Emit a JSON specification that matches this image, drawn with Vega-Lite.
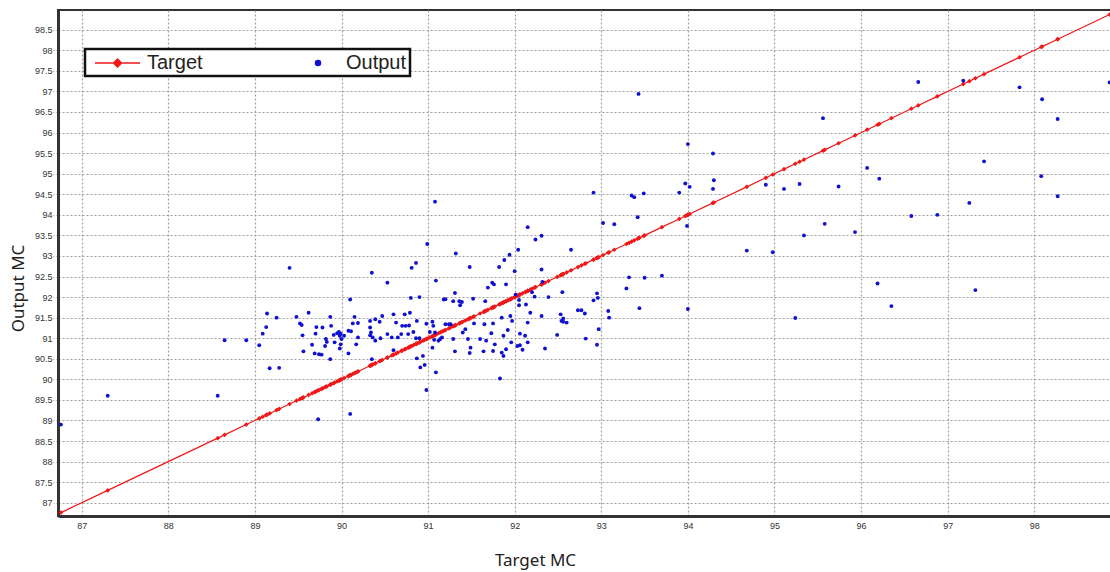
{
  "$schema": "https://vega.github.io/schema/vega-lite/v6.json",
  "width": 1053,
  "height": 506,
  "autosize": {"type": "none"},
  "padding": {"left": 58, "top": 10, "right": 0, "bottom": 56},
  "background": "white",
  "config": {
    "view": {"stroke": "#333333", "strokeWidth": 2},
    "axis": {
      "labelFont": "Liberation Sans",
      "labelFontSize": 9,
      "labelColor": "#333333",
      "labelOverlap": false,
      "titleFont": "Noto Sans",
      "titleFontSize": 17,
      "titleFontWeight": "normal",
      "titleColor": "#222222",
      "domainColor": "#333333",
      "domainWidth": 3,
      "gridColor": "#a0a0a0",
      "gridDash": [2, 2],
      "gridWidth": 1.2
    }
  },
  "data": {
    "values": [
      {"Target": 86.76, "Output": 88.9}, {"Target": 87.3, "Output": 89.6}, {"Target": 88.57, "Output": 89.6}, {"Target": 88.65, "Output": 90.95},
      {"Target": 88.9, "Output": 90.95}, {"Target": 89.05, "Output": 90.83}, {"Target": 89.09, "Output": 91.11}, {"Target": 89.13, "Output": 91.27},
      {"Target": 89.14, "Output": 91.6}, {"Target": 89.25, "Output": 91.5}, {"Target": 89.17, "Output": 90.27}, {"Target": 89.28, "Output": 90.28},
      {"Target": 89.73, "Output": 89.03}, {"Target": 90.1, "Output": 89.16},
      {"Target": 89.4, "Output": 92.71}, {"Target": 89.48, "Output": 91.52}, {"Target": 89.52, "Output": 91.36}, {"Target": 89.54, "Output": 91.32},
      {"Target": 89.62, "Output": 91.62}, {"Target": 89.55, "Output": 91.07}, {"Target": 89.56, "Output": 90.68}, {"Target": 89.66, "Output": 90.84},
      {"Target": 89.7, "Output": 91.11}, {"Target": 89.71, "Output": 91.27}, {"Target": 89.69, "Output": 90.63}, {"Target": 89.74, "Output": 90.61},
      {"Target": 89.77, "Output": 90.6}, {"Target": 89.78, "Output": 91.26}, {"Target": 89.82, "Output": 90.98}, {"Target": 89.81, "Output": 90.81},
      {"Target": 89.83, "Output": 90.91}, {"Target": 89.87, "Output": 91.52}, {"Target": 89.88, "Output": 91.3}, {"Target": 89.87, "Output": 90.49},
      {"Target": 89.91, "Output": 91.08}, {"Target": 89.92, "Output": 90.9}, {"Target": 89.95, "Output": 91.12}, {"Target": 89.97, "Output": 91.15},
      {"Target": 89.99, "Output": 91.11}, {"Target": 89.98, "Output": 91.06}, {"Target": 90.0, "Output": 90.98}, {"Target": 89.99, "Output": 90.85},
      {"Target": 89.98, "Output": 90.75}, {"Target": 90.03, "Output": 91.06}, {"Target": 90.08, "Output": 90.63}, {"Target": 90.08, "Output": 91.18},
      {"Target": 90.1, "Output": 91.94}, {"Target": 90.11, "Output": 91.17}, {"Target": 90.13, "Output": 91.36}, {"Target": 90.15, "Output": 91.52},
      {"Target": 90.17, "Output": 90.85}, {"Target": 90.19, "Output": 91.37}, {"Target": 90.19, "Output": 91.02}, {"Target": 90.33, "Output": 91.42},
      {"Target": 90.33, "Output": 91.26}, {"Target": 90.33, "Output": 91.07}, {"Target": 90.34, "Output": 91.14}, {"Target": 90.35, "Output": 92.59},
      {"Target": 90.36, "Output": 91.02}, {"Target": 90.35, "Output": 90.49}, {"Target": 90.39, "Output": 90.94}, {"Target": 90.39, "Output": 91.46},
      {"Target": 90.44, "Output": 91.4}, {"Target": 90.45, "Output": 91.0}, {"Target": 90.47, "Output": 91.54}, {"Target": 90.53, "Output": 91.1},
      {"Target": 90.53, "Output": 92.35}, {"Target": 90.58, "Output": 91.02}, {"Target": 90.6, "Output": 91.58}, {"Target": 90.6, "Output": 90.71},
      {"Target": 90.63, "Output": 91.38}, {"Target": 90.65, "Output": 91.02}, {"Target": 90.69, "Output": 91.1}, {"Target": 90.7, "Output": 91.3},
      {"Target": 90.73, "Output": 91.58}, {"Target": 90.74, "Output": 91.3}, {"Target": 90.77, "Output": 91.1}, {"Target": 90.78, "Output": 91.31},
      {"Target": 90.79, "Output": 91.62}, {"Target": 90.8, "Output": 91.98}, {"Target": 90.81, "Output": 92.71}, {"Target": 90.83, "Output": 91.15},
      {"Target": 90.86, "Output": 92.83}, {"Target": 90.86, "Output": 91.0}, {"Target": 90.87, "Output": 91.42}, {"Target": 90.87, "Output": 90.51},
      {"Target": 90.9, "Output": 91.0}, {"Target": 90.9, "Output": 92.0}, {"Target": 90.91, "Output": 90.29}, {"Target": 90.94, "Output": 90.57},
      {"Target": 90.96, "Output": 90.35}, {"Target": 90.98, "Output": 89.74}, {"Target": 90.98, "Output": 91.35}, {"Target": 90.99, "Output": 93.29},
      {"Target": 91.02, "Output": 91.15}, {"Target": 91.05, "Output": 91.4}, {"Target": 91.05, "Output": 90.77}, {"Target": 91.06, "Output": 91.3},
      {"Target": 91.07, "Output": 90.96}, {"Target": 91.08, "Output": 94.32}, {"Target": 91.08, "Output": 91.14}, {"Target": 91.09, "Output": 92.4},
      {"Target": 91.09, "Output": 90.17}, {"Target": 91.12, "Output": 90.94}, {"Target": 91.14, "Output": 90.98}, {"Target": 91.16, "Output": 91.02},
      {"Target": 91.18, "Output": 91.94}, {"Target": 91.2, "Output": 91.95}, {"Target": 91.2, "Output": 91.34}, {"Target": 91.24, "Output": 91.34},
      {"Target": 91.26, "Output": 91.34}, {"Target": 91.29, "Output": 90.98}, {"Target": 91.29, "Output": 91.9}, {"Target": 91.31, "Output": 90.68},
      {"Target": 91.31, "Output": 92.1}, {"Target": 91.32, "Output": 93.06}, {"Target": 91.36, "Output": 91.9}, {"Target": 91.37, "Output": 91.8},
      {"Target": 91.39, "Output": 91.88}, {"Target": 91.4, "Output": 91.14}, {"Target": 91.43, "Output": 91.22}, {"Target": 91.46, "Output": 90.98},
      {"Target": 91.48, "Output": 92.73}, {"Target": 91.48, "Output": 90.64}, {"Target": 91.49, "Output": 90.77}, {"Target": 91.52, "Output": 91.96},
      {"Target": 91.53, "Output": 91.36}, {"Target": 91.6, "Output": 90.98}, {"Target": 91.64, "Output": 90.68}, {"Target": 91.65, "Output": 91.34},
      {"Target": 91.66, "Output": 91.9}, {"Target": 91.67, "Output": 90.94}, {"Target": 91.69, "Output": 92.23},
      {"Target": 91.75, "Output": 90.69}, {"Target": 91.75, "Output": 91.36}, {"Target": 91.73, "Output": 91.12}, {"Target": 91.77, "Output": 90.85},
      {"Target": 91.74, "Output": 92.35}, {"Target": 91.76, "Output": 92.31}, {"Target": 91.82, "Output": 92.73}, {"Target": 91.88, "Output": 92.9},
      {"Target": 91.83, "Output": 90.02}, {"Target": 91.85, "Output": 91.5}, {"Target": 91.85, "Output": 90.65}, {"Target": 91.87, "Output": 91.06},
      {"Target": 91.87, "Output": 90.57}, {"Target": 91.9, "Output": 92.31}, {"Target": 91.9, "Output": 90.73}, {"Target": 91.92, "Output": 91.2},
      {"Target": 91.94, "Output": 93.03}, {"Target": 91.95, "Output": 91.54}, {"Target": 91.96, "Output": 90.9}, {"Target": 91.97, "Output": 91.42},
      {"Target": 92.0, "Output": 92.63}, {"Target": 92.01, "Output": 92.06}, {"Target": 92.03, "Output": 90.81}, {"Target": 92.04, "Output": 93.15},
      {"Target": 92.05, "Output": 91.8}, {"Target": 92.05, "Output": 91.93}, {"Target": 92.06, "Output": 91.11}, {"Target": 92.06, "Output": 90.83},
      {"Target": 92.09, "Output": 90.72}, {"Target": 92.12, "Output": 91.06}, {"Target": 92.13, "Output": 91.82}, {"Target": 92.15, "Output": 90.9},
      {"Target": 92.15, "Output": 93.7}, {"Target": 92.15, "Output": 91.38}, {"Target": 92.18, "Output": 91.62}, {"Target": 92.2, "Output": 92.12},
      {"Target": 92.23, "Output": 92.01}, {"Target": 92.24, "Output": 93.4}, {"Target": 92.31, "Output": 91.54}, {"Target": 92.31, "Output": 93.49},
      {"Target": 92.31, "Output": 92.67}, {"Target": 92.32, "Output": 92.37}, {"Target": 92.35, "Output": 90.75}, {"Target": 92.39, "Output": 92.0},
      {"Target": 92.49, "Output": 91.08}, {"Target": 92.53, "Output": 91.58}, {"Target": 92.54, "Output": 91.42}, {"Target": 92.55, "Output": 92.12},
      {"Target": 92.56, "Output": 91.48}, {"Target": 92.56, "Output": 91.4}, {"Target": 92.6, "Output": 91.38}, {"Target": 92.65, "Output": 93.15},
      {"Target": 92.73, "Output": 91.68}, {"Target": 92.77, "Output": 91.68}, {"Target": 92.81, "Output": 91.6}, {"Target": 92.82, "Output": 90.99},
      {"Target": 92.91, "Output": 94.54}, {"Target": 92.91, "Output": 91.92}, {"Target": 92.95, "Output": 92.09}, {"Target": 92.96, "Output": 91.98},
      {"Target": 92.95, "Output": 90.84}, {"Target": 92.97, "Output": 91.22}, {"Target": 93.02, "Output": 93.8}, {"Target": 93.08, "Output": 91.66},
      {"Target": 93.09, "Output": 91.5}, {"Target": 93.15, "Output": 93.77}, {"Target": 93.29, "Output": 92.21}, {"Target": 93.32, "Output": 92.48},
      {"Target": 93.35, "Output": 94.47}, {"Target": 93.38, "Output": 94.43}, {"Target": 93.42, "Output": 93.94}, {"Target": 93.44, "Output": 91.73},
      {"Target": 93.49, "Output": 94.52}, {"Target": 93.5, "Output": 92.47}, {"Target": 93.7, "Output": 92.52}, {"Target": 93.9, "Output": 94.54},
      {"Target": 93.43, "Output": 96.94}, {"Target": 94.0, "Output": 95.72}, {"Target": 94.29, "Output": 95.49}, {"Target": 93.97, "Output": 94.76},
      {"Target": 94.02, "Output": 94.68}, {"Target": 94.29, "Output": 94.63}, {"Target": 94.3, "Output": 94.84}, {"Target": 93.99, "Output": 93.73},
      {"Target": 94.0, "Output": 91.71}, {"Target": 94.68, "Output": 93.13}, {"Target": 94.98, "Output": 93.09}, {"Target": 94.9, "Output": 94.73},
      {"Target": 95.11, "Output": 94.63}, {"Target": 95.29, "Output": 94.75}, {"Target": 95.34, "Output": 93.5}, {"Target": 95.24, "Output": 91.49},
      {"Target": 95.56, "Output": 96.35}, {"Target": 95.58, "Output": 93.78}, {"Target": 95.74, "Output": 94.69}, {"Target": 95.93, "Output": 93.58},
      {"Target": 96.66, "Output": 97.23}, {"Target": 96.07, "Output": 95.14}, {"Target": 96.21, "Output": 94.88}, {"Target": 96.58, "Output": 93.97},
      {"Target": 96.88, "Output": 94.0}, {"Target": 96.19, "Output": 92.33}, {"Target": 96.35, "Output": 91.78}, {"Target": 97.18, "Output": 97.26},
      {"Target": 97.42, "Output": 95.3}, {"Target": 97.25, "Output": 94.29}, {"Target": 97.32, "Output": 92.17}, {"Target": 97.83, "Output": 97.1},
      {"Target": 98.09, "Output": 96.81}, {"Target": 98.27, "Output": 96.33}, {"Target": 98.08, "Output": 94.94}, {"Target": 98.27, "Output": 94.45},
      {"Target": 98.87, "Output": 97.22}, {"Target": 99.0, "Output": null}
    ]
  },
  "transform": [{"fold": ["Target", "Output"], "as": ["series", "value"]}],
  "encoding": {
    "x": {
      "field": "Target",
      "type": "quantitative",
      "scale": {"domain": [86.726, 98.886], "nice": false, "zero": false},
      "axis": {
        "title": "Target MC",
        "values": [87, 88, 89, 90, 91, 92, 93, 94, 95, 96, 97, 98],
        "format": "~g",
        "ticks": false,
        "labelPadding": 5,
        "titleX": 477,
        "titleY": 44,
        "titleBaseline": "middle"
      }
    },
    "y": {
      "field": "value",
      "type": "quantitative",
      "scale": {"domain": [86.677, 98.98], "nice": false, "zero": false},
      "axis": {
        "title": "Output MC",
        "values": [87, 87.5, 88, 88.5, 89, 89.5, 90, 90.5, 91, 91.5, 92, 92.5, 93, 93.5, 94, 94.5, 95, 95.5, 96, 96.5, 97, 97.5, 98, 98.5],
        "format": "~g",
        "tickSize": 5,
        "tickDash": [2, 2],
        "tickColor": "#a0a0a0",
        "labelPadding": 1,
        "titleX": -40,
        "titleY": 278,
        "titleBaseline": "middle"
      }
    },
    "color": {
      "field": "series",
      "type": "nominal",
      "scale": {"domain": ["Target", "Output"], "range": ["#f01818", "#1010d0"]},
      "legend": {
        "title": null,
        "orient": "none",
        "legendX": 27,
        "legendY": 39,
        "direction": "horizontal",
        "symbolSize": 400,
        "symbolStrokeWidth": 1.5,
        "labelFont": "Liberation Sans",
        "labelFontSize": 20,
        "labelColor": "#222222",
        "labelOffset": 37,
        "columnPadding": 84,
        "padding": 3,
        "strokeColor": "#111111",
        "fillColor": "white",
        "encode": {
          "legend": {"update": {"strokeWidth": {"value": 2.5}}},
          "symbols": {
            "update": {
              "shape": {"signal": "datum.value === 'Target' ? 'M-0.4,0H4.1M1.45,0L1.85,-0.4L2.25,0L1.85,0.4Z' : 'M1.75,0A0.25,0.25,0,1,1,2.25,0A0.25,0.25,0,1,1,1.75,0Z'"},
              "fill": {"signal": "datum.value === 'Target' ? '#f01818' : '#1010d0'"},
              "stroke": {"signal": "datum.value === 'Target' ? '#f01818' : '#1010d0'"},
              "strokeWidth": {"value": 1.5},
              "opacity": {"value": 1}
            }
          }
        }
      }
    }
  },
  "layer": [
    {
      "transform": [{"filter": "datum.series === 'Target'"}],
      "mark": {"type": "line", "strokeWidth": 1.2, "clip": true}
    },
    {
      "transform": [{"filter": "datum.series === 'Target'"}],
      "mark": {"type": "point", "shape": "diamond", "filled": true, "size": 22, "opacity": 1, "clip": true}
    },
    {
      "transform": [{"filter": "datum.series === 'Output'"}],
      "mark": {"type": "point", "shape": "circle", "filled": true, "size": 15, "opacity": 1, "clip": true}
    }
  ]
}
